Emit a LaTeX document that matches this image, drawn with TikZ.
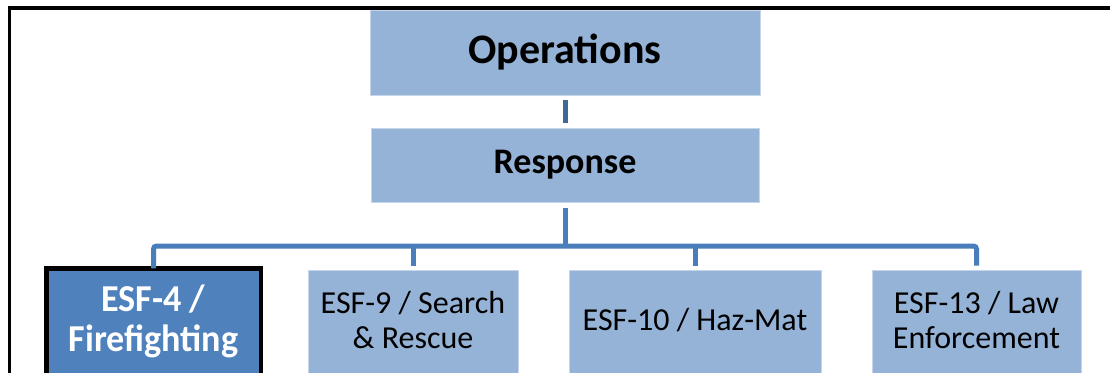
\documentclass[tikz,border=0pt]{standalone}
\usepackage{fontspec}
\setmainfont{Carlito}
\newfontfamily\leadfont[FakeStretch=0.95]{Carlito}
\definecolor{boxlight}{HTML}{95B3D7}
\definecolor{boxdark}{HTML}{4F81BD}
\definecolor{linkblue}{HTML}{4A7EBB}
\definecolor{linkdark}{HTML}{3E679C}
\definecolor{boxedge}{HTML}{C5D5EA}
\tikzset{
  unitbox/.style={rectangle, fill=boxlight, draw=boxedge, line width=0.8pt,
    inner sep=0pt, outer sep=0pt},
  leadbox/.style={rectangle, fill=boxdark, draw=black, line width=4.5pt,
    inner sep=0pt, outer sep=0pt},
  unitlabel/.style={align=center, inner sep=0pt, text=black,
    font=\fontsize{32}{35}\selectfont},
  leadlabel/.style={align=center, inner sep=0pt, text=white,
    font=\leadfont\fontsize{38}{40}\selectfont\bfseries},
  link/.style={draw=linkblue, line width=5pt},
}
\begin{document}
\begin{tikzpicture}[x=1pt, y=-1pt]
\useasboundingbox (0,0) rectangle (1110,372);
\clip (0,0) rectangle (1110,372);
\fill[white] (0,0) rectangle (1110,372);

% outer frame (left and top edges)
\draw[line width=3.5pt] (9.5,380) -- (9.5,8) -- (1115,8);

% upper levels
\node[unitbox, minimum width=390pt, minimum height=85pt,
  font=\fontsize{42}{46}\selectfont\bfseries] (ops) at (565,52.5) {Operations};
\node[unitbox, minimum width=388pt, minimum height=74pt,
  font=\fontsize{36}{40}\selectfont\bfseries] (resp) at (565,165) {Response};

% bottom row of support functions (boxes run off the lower edge)
\node[leadbox, minimum width=214.5pt, minimum height=160pt, anchor=north] (esf4) at (153.5,268.25) {};
\node[unitbox, minimum width=210pt, minimum height=160pt, anchor=north] (esf9) at (413,270.5) {};
\node[unitbox, minimum width=252pt, minimum height=160pt, anchor=north] (esf10) at (695,270.5) {};
\node[unitbox, minimum width=209pt, minimum height=160pt, anchor=north] (esf13) at (976.5,270.5) {};

\node[leadlabel] (l4) at (153.5,321.5) {ESF-4 /\\Firefighting};
\node[unitlabel] (l9) at (413,320) {ESF-9 / Search\\\& Rescue};
\node[unitlabel] (l10) at (695,320) {ESF-10 / Haz-Mat};
\node[unitlabel] (l13) at (976.5,320) {ESF-13 / Law\\Enforcement};

% connectors
\coordinate (bus) at (565,246);
\draw[link, draw=linkdark, shorten <=5pt, shorten >=5pt] (ops.south) -- (resp.north);
\draw[link, shorten <=6pt] (resp.south) -- (bus);
\draw[link, rounded corners=3pt, shorten >=5pt]
  (esf4.north) -- (esf4.north |- bus) -- (esf13.north |- bus) -- (esf13.north);
\draw[link, shorten >=5pt] (esf9.north |- bus) -- (esf9.north);
\draw[link, shorten >=5pt] (esf10.north |- bus) -- (esf10.north);
\end{tikzpicture}
\end{document}
